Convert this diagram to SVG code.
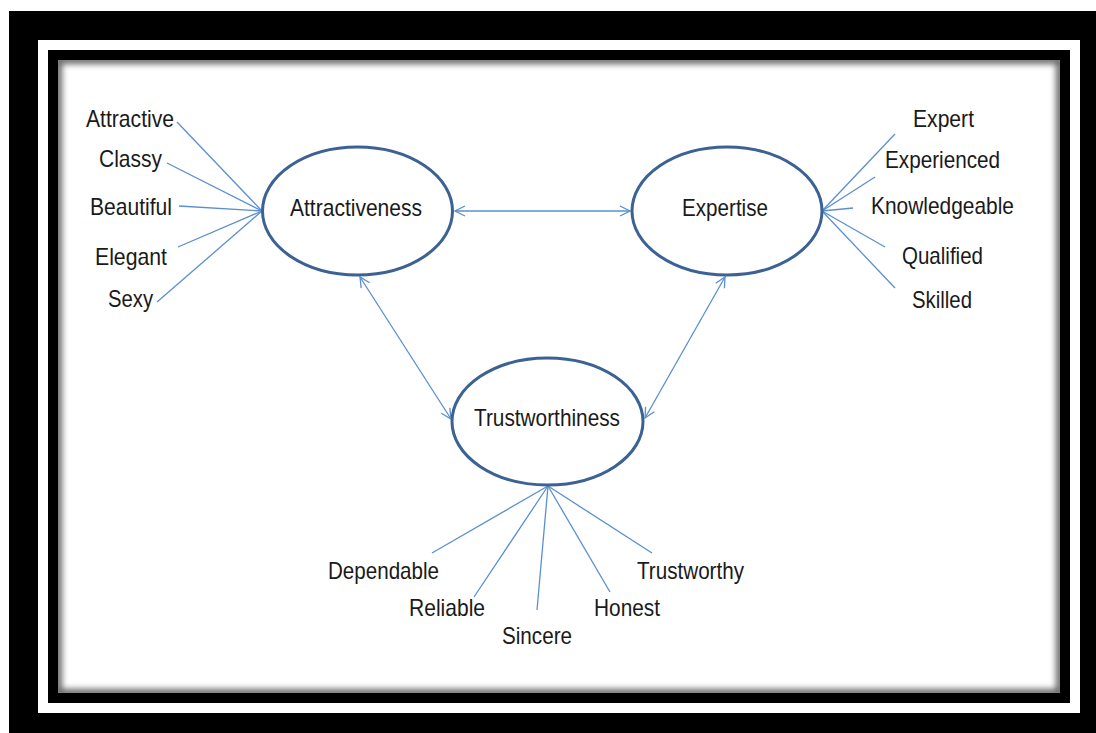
<svg xmlns="http://www.w3.org/2000/svg" width="1096" height="733" viewBox="0 0 1096 733">
<style>
.lbl{font-family:"Liberation Sans",Arial,sans-serif;font-size:24px;fill:#1a1a1a}
.node ellipse{fill:#fff;stroke:#3b6292;stroke-width:3}
.spoke{stroke:#5b8fd0;stroke-width:1.3;fill:none}
.bi{stroke:#5b8fd0;stroke-width:1.3;fill:none;marker-start:url(#arr);marker-end:url(#arr)}
</style>
<defs>
<marker id="arr" viewBox="0 0 12 12" refX="11" refY="6" markerWidth="12" markerHeight="12" markerUnits="userSpaceOnUse" orient="auto-start-reverse">
<path d="M1,1 L11,6 L1,11" fill="none" stroke="#5b8fd0" stroke-width="1.3"/>
</marker>
<clipPath id="pclip"><rect x="58" y="60" width="1002" height="633"/></clipPath>
<filter id="blur" x="-0.05" y="-0.05" width="1.1" height="1.1"><feGaussianBlur stdDeviation="3"/></filter>
</defs>
<rect width="1096" height="733" fill="#fff"/>
<g id="frame">
<rect x="9" y="11" width="1087" height="722" fill="#000"/>
<rect x="38" y="40" width="1042" height="673" fill="#fff"/>
<rect x="48" y="50" width="1022" height="653" fill="#000"/>
<rect x="58" y="60" width="1002" height="633" fill="#fff"/>
<g clip-path="url(#pclip)"><rect x="58" y="60" width="1002" height="633" fill="none" stroke="#000" stroke-width="8" opacity="0.6" filter="url(#blur)"/></g>
</g>
<g id="connectors">
<line class="spoke" x1="177" y1="122" x2="262" y2="211"/>
<line class="spoke" x1="167" y1="163" x2="262" y2="211"/>
<line class="spoke" x1="179" y1="206" x2="262" y2="211"/>
<line class="spoke" x1="178" y1="247" x2="262" y2="211"/>
<line class="spoke" x1="157" y1="302" x2="262" y2="211"/>
<line class="spoke" x1="895" y1="134" x2="822" y2="211"/>
<line class="spoke" x1="875" y1="177" x2="822" y2="211"/>
<line class="spoke" x1="853" y1="208" x2="822" y2="211"/>
<line class="spoke" x1="885" y1="247" x2="822" y2="211"/>
<line class="spoke" x1="895" y1="288" x2="822" y2="211"/>
<line class="spoke" x1="432" y1="553" x2="548" y2="486"/>
<line class="spoke" x1="474" y1="597" x2="548" y2="486"/>
<line class="spoke" x1="537" y1="610" x2="548" y2="486"/>
<line class="spoke" x1="610" y1="592" x2="548" y2="486"/>
<line class="spoke" x1="652" y1="553" x2="548" y2="486"/>
<line class="bi" x1="455" y1="211" x2="630" y2="211"/>
<line class="bi" x1="360" y1="277" x2="451" y2="419"/>
<line class="bi" x1="725" y1="277" x2="645" y2="418"/>
</g>
<g id="node-attractiveness" class="node">
<ellipse cx="357.5" cy="211" rx="95" ry="64"/>
<text class="lbl" x="290" y="216" textLength="132" lengthAdjust="spacingAndGlyphs">Attractiveness</text>
</g>
<g id="node-expertise" class="node">
<ellipse cx="727" cy="211" rx="95" ry="64"/>
<text class="lbl" x="682" y="216" textLength="86" lengthAdjust="spacingAndGlyphs">Expertise</text>
</g>
<g id="node-trustworthiness" class="node">
<ellipse cx="547.5" cy="421.5" rx="95.5" ry="63.5"/>
<text class="lbl" x="474" y="426" textLength="146" lengthAdjust="spacingAndGlyphs">Trustworthiness</text>
</g>
<g id="labels">
<text class="lbl" x="86" y="127" textLength="88" lengthAdjust="spacingAndGlyphs">Attractive</text>
<text class="lbl" x="99" y="167" textLength="63" lengthAdjust="spacingAndGlyphs">Classy</text>
<text class="lbl" x="90" y="215" textLength="82" lengthAdjust="spacingAndGlyphs">Beautiful</text>
<text class="lbl" x="95" y="265" textLength="72" lengthAdjust="spacingAndGlyphs">Elegant</text>
<text class="lbl" x="108" y="307" textLength="45" lengthAdjust="spacingAndGlyphs">Sexy</text>
<text class="lbl" x="913" y="127" textLength="61" lengthAdjust="spacingAndGlyphs">Expert</text>
<text class="lbl" x="885" y="168" textLength="115" lengthAdjust="spacingAndGlyphs">Experienced</text>
<text class="lbl" x="871" y="214" textLength="143" lengthAdjust="spacingAndGlyphs">Knowledgeable</text>
<text class="lbl" x="902" y="264" textLength="81" lengthAdjust="spacingAndGlyphs">Qualified</text>
<text class="lbl" x="912" y="308" textLength="60" lengthAdjust="spacingAndGlyphs">Skilled</text>
<text class="lbl" x="328" y="579" textLength="111" lengthAdjust="spacingAndGlyphs">Dependable</text>
<text class="lbl" x="409" y="616" textLength="76" lengthAdjust="spacingAndGlyphs">Reliable</text>
<text class="lbl" x="502" y="644" textLength="70" lengthAdjust="spacingAndGlyphs">Sincere</text>
<text class="lbl" x="594" y="616" textLength="66" lengthAdjust="spacingAndGlyphs">Honest</text>
<text class="lbl" x="637" y="579" textLength="107" lengthAdjust="spacingAndGlyphs">Trustworthy</text>
</g>
</svg>
